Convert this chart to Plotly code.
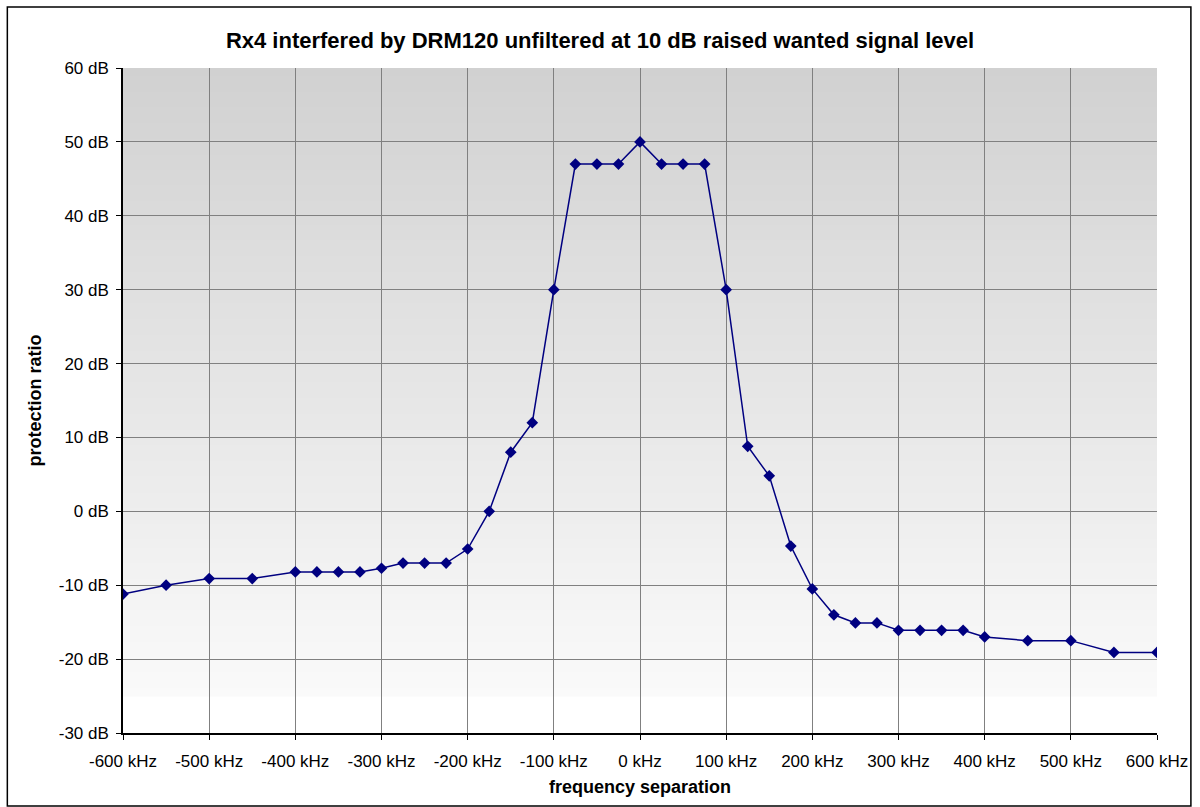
import plotly.graph_objects as go

# frequency separation (kHz) and protection ratio (dB)
freq_khz = [-600, -550, -500, -450, -400, -375, -350, -325, -300, -275, -250, -225,
            -200, -175, -150, -125, -100, -75, -50, -25, 0, 25, 50, 75,
            100, 125, 150, 175, 200, 225, 250, 275, 300, 325, 350, 375,
            400, 450, 500, 550, 600]
protection_db = [-11.2, -10, -9.1, -9.1, -8.2, -8.2, -8.2, -8.2, -7.7, -7, -7, -7,
                 -5.1, 0, 8, 12, 30, 47, 47, 47, 50, 47, 47, 47,
                 30, 8.8, 4.8, -4.7, -10.5, -14, -15.1, -15.1, -16.1, -16.1, -16.1, -16.1,
                 -17, -17.5, -17.5, -19.1, -19.1]

x_ticks = list(range(-600, 601, 100))
x_labels = [f"{v} kHz" for v in x_ticks]
y_ticks = list(range(-30, 61, 10))
y_labels = [f"{v} dB" for v in y_ticks]

fig = go.Figure()
fig.add_trace(go.Scatter(
    x=freq_khz,
    y=protection_db,
    mode='lines+markers',
    line=dict(color='#000080', width=1.5),
    marker=dict(symbol='diamond', size=9, color='#000080'),
    showlegend=False
))

# grey-to-white gradient behind the grid, drawn as thin overlapping bands
shapes = []
n_bands = 80
fade_end = 0.055  # fraction of height (from bottom) that stays plain white
for i in range(n_bands):
    t0 = fade_end + (1 - fade_end) * i / n_bands
    t1 = fade_end + (1 - fade_end) * (i + 1.6) / n_bands
    frac = (i + 0.5) / n_bands
    c = round(250 - (250 - 209) * frac)
    shapes.append(dict(type='rect', xref='x domain', yref='y domain',
                       x0=0, x1=1, y0=t0, y1=min(t1, 1),
                       fillcolor=f'rgb({c},{c},{c})', line_width=0, layer='below'))

# outer chart border
L, R, T, B = 123, 40, 68, 74
W, H = 1200, 807
pw, ph = W - L - R, H - T - B
shapes.append(dict(type='rect', xref='paper', yref='paper',
                   x0=(7 - L) / pw, x1=(1194 - L) / pw,
                   y0=(H - B - 806) / ph, y1=(H - B - 7) / ph,
                   line=dict(color='black', width=1.5), fillcolor='rgba(0,0,0,0)'))

font = 'Liberation Sans, Arial, sans-serif'
fig.update_layout(
    width=W, height=H,
    margin=dict(l=L, r=R, t=T, b=B),
    paper_bgcolor='white',
    plot_bgcolor='white',
    font=dict(family=font, size=17, color='black'),
    title=dict(text='<b>Rx4 interfered by DRM120 unfiltered at 10 dB raised wanted signal level</b>',
               x=0.5, xanchor='center', y=1 - 40 / H, yanchor='middle',
               font=dict(size=22, family=font)),
    shapes=shapes,
    xaxis=dict(range=[-600, 600], tickvals=x_ticks, ticktext=x_labels,
               showgrid=True, gridcolor='#808080', gridwidth=1,
               showline=True, linecolor='black', linewidth=1.5,
               ticks='outside', ticklen=5, tickcolor='black',
               ticklabelstandoff=7, zeroline=False,
               title=dict(text='<b>frequency separation</b>', standoff=10,
                          font=dict(size=18))),
    yaxis=dict(range=[-30, 60], tickvals=y_ticks, ticktext=y_labels,
               showgrid=True, gridcolor='#808080', gridwidth=1,
               showline=True, linecolor='black', linewidth=1.5,
               ticks='outside', ticklen=5, tickcolor='black',
               ticklabelstandoff=4, zeroline=False,
               title=dict(text='<b>protection ratio</b>', standoff=12,
                          font=dict(size=18))),
)

fig.write_html("out.html", config={'displayModeBar': False},
               post_script="document.body.style.margin='0';")
